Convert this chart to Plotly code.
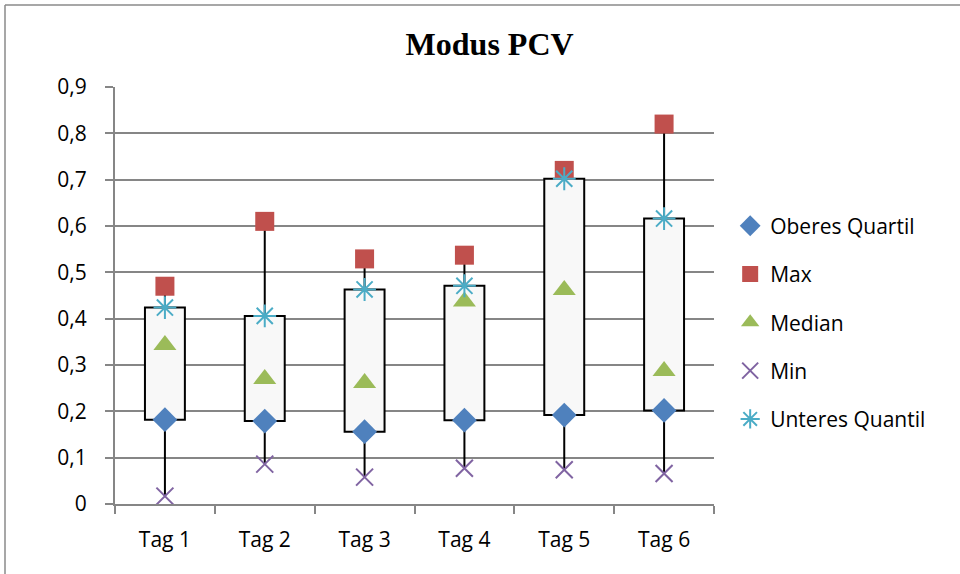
import numpy as np
import plotly.graph_objects as go

categories = ["Tag 1", "Tag 2", "Tag 3", "Tag 4", "Tag 5", "Tag 6"]
oberes_quartil = [0.182, 0.179, 0.156, 0.181, 0.192, 0.202]
max_vals = [0.470, 0.610, 0.529, 0.537, 0.720, 0.820]
median_vals = [0.343, 0.270, 0.261, 0.437, 0.462, 0.287]
min_vals = [0.017, 0.086, 0.058, 0.077, 0.074, 0.066]
unteres_quantil = [0.424, 0.406, 0.463, 0.471, 0.702, 0.616]
y_ticks = [0, 0.1, 0.2, 0.3, 0.4, 0.5, 0.6, 0.7, 0.8, 0.9]
y_tick_labels = ["0", "0,1", "0,2", "0,3", "0,4", "0,5", "0,6", "0,7", "0,8", "0,9"]

oq = np.array(oberes_quartil)
uq = np.array(unteres_quantil)
box_low = np.minimum(oq, uq)
box_high = np.maximum(oq, uq)

FONT = "Open Sans"
GRID = "#868686"

fig = go.Figure()

# high-low lines (segments outside the box)
lx, ly = [], []
for c, lo, hi, bl, bh in zip(categories, min_vals, max_vals, box_low, box_high):
    lx += [c, c, None, c, c, None]
    ly += [bh, hi, None, lo, bl, None]
fig.add_trace(go.Scatter(x=lx, y=ly, mode="lines", line=dict(color="black", width=2),
                         showlegend=False, hoverinfo="skip"))

# up-down bars
fig.add_trace(go.Bar(x=categories, y=box_high - box_low, base=box_low, width=0.4,
                     marker=dict(color="#f8f8f8", line=dict(color="black", width=2)),
                     showlegend=False, hoverinfo="skip"))

series = [
    ("Oberes Quartil", oberes_quartil, dict(symbol="diamond", size=19, color="#4F81BD")),
    ("Max", max_vals, dict(symbol="square", size=19, color="#C0504D")),
    ("Median", median_vals, dict(symbol="triangle-up", size=20, color="#9BBB59")),
    ("Min", min_vals, dict(symbol="x-thin-open", size=17, color="#8064A2", line=dict(width=2, color="#8064A2"))),
    ("Unteres Quantil", unteres_quantil, dict(symbol="asterisk-open", size=19, color="#4BACC6", line=dict(width=2, color="#4BACC6"))),
]
for i, (name, vals, mk) in enumerate(series):
    fig.add_trace(go.Scatter(x=categories, y=vals, mode="markers", name=name,
                             marker=mk, legendgroup=f"g{i}"))

fig.update_layout(
    width=960, height=574,
    margin=dict(l=115, r=246, t=87, b=70),
    paper_bgcolor="white", plot_bgcolor="white",
    separators=",.",
    barmode="overlay",
    title=dict(text="<b>Modus PCV</b>", x=0.51, xref="container", xanchor="center",
               y=1 - 44 / 574, yref="container", yanchor="middle",
               font=dict(family="Liberation Serif", size=32, color="black")),
    font=dict(family=FONT, size=21, color="black"),
    legend=dict(x=1.027, xanchor="left", y=0.435, yanchor="middle",
                font=dict(family=FONT, size=21, color="black"),
                tracegroupgap=18, itemwidth=30, bgcolor="rgba(0,0,0,0)"),
    shapes=[
        dict(type="line", xref="paper", yref="paper", x0=(5 - 115) / 599, x1=(960 - 115) / 599,
             y0=(504 - 5) / 417, y1=(504 - 5) / 417, line=dict(color="#8a8a8a", width=1.5)),
        dict(type="line", xref="paper", yref="paper", x0=(5 - 115) / 599, x1=(5 - 115) / 599,
             y0=(504 - 5) / 417, y1=(504 - 580) / 417, line=dict(color="#8a8a8a", width=1.5)),
    ],
)
fig.update_yaxes(range=[0, 0.9], tickvals=y_ticks, ticktext=y_tick_labels,
                 showgrid=True, gridcolor=GRID, gridwidth=2,
                 showline=True, linecolor=GRID, linewidth=2,
                 ticks="outside", ticklen=8, tickcolor=GRID, tickwidth=2,
                 ticklabelstandoff=14, zeroline=False,
                 tickfont=dict(family=FONT, size=21, color="black"))
fig.update_xaxes(type="category", categoryorder="array", categoryarray=categories,
                 range=[-0.5, 5.5], showgrid=False,
                 showline=True, linecolor=GRID, linewidth=2,
                 ticks="outside", tickson="boundaries", ticklen=8, tickcolor=GRID, tickwidth=2,
                 ticklabelstandoff=16,
                 tickfont=dict(family=FONT, size=21, color="black"))

fig.write_html("out.html")
